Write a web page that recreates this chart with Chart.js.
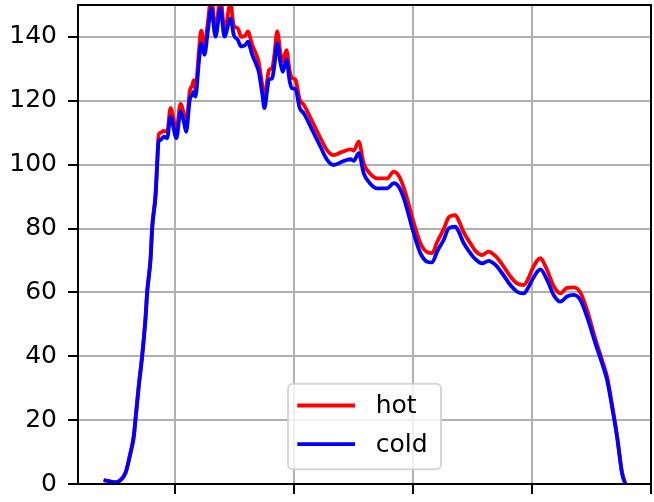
<!DOCTYPE html>
<html>
<head>
<meta charset="utf-8">
<script src="https://cdn.jsdelivr.net/npm/chart.js@4/dist/chart.umd.min.js"></script>
<style>
  html, body { margin: 0; padding: 0; background: #fff; overflow: hidden; }
  #c { display: block; }
</style>
</head>
<body>
<canvas id="c" width="654" height="502"></canvas>
<script>
// ---- data ----
const xValues = [39.5, 43.6, 49.5, 53.7, 57.9, 62.1, 64.9, 66.3, 69.1, 72.0, 74.7, 76.2, 79.0, 80.4, 83.2, 84.6, 85.9, 87.4, 90.2, 93.0, 95.8, 100.8, 104.2, 107.0, 109.0, 112.0, 114.1, 115.4, 116.8, 119.6, 121.6, 124.4, 127.2, 130.1, 133.7, 137.9, 141.2, 146.3, 149.1, 152.4, 155.3, 158.9, 160.9, 164.6, 168.2, 170.1, 173.0, 174.9, 177.2, 178.5, 181.4, 183.3, 185.6, 188.4, 190.3, 193.4, 196.2, 198.2, 201.0, 204.6, 208.0, 215.1, 222.1, 227.7, 233.2, 240.3, 247.3, 250.1, 254.3, 258.5, 263.6, 269.8, 278.2, 283.8, 288.0, 292.2, 296.4, 300.6, 306.2, 311.9, 316.1, 320.3, 325.8, 330.1, 335.7, 338.5, 342.7, 348.3, 352.5, 358.2, 363.7, 369.4, 375.0, 382.0, 387.6, 393.2, 397.4, 400.3, 407.2, 412.9, 418.4, 424.1, 429.7, 435.3, 440.9, 446.5, 453.5, 459.2, 463.4, 467.6, 471.8, 476.0, 478.8];

const coldValues = [1.2, 0.9, 0.5, 1.2, 3.4, 9.6, 14.8, 20.0, 30.5, 40.1, 51.4, 60.0, 70.2, 80.1, 90.0, 100.1, 107.7, 107.7, 108.8, 108.3, 115.0, 108.3, 116.6, 113.5, 110.3, 120.3, 121.8, 122.9, 121.3, 131.8, 138.0, 134.4, 141.7, 149.0, 140.1, 149.0, 140.1, 145.8, 140.6, 139.1, 137.0, 137.5, 138.5, 134.4, 131.2, 129.1, 122.4, 117.7, 123.4, 126.5, 127.1, 131.2, 138.0, 131.8, 129.1, 132.8, 126.0, 123.9, 123.6, 117.7, 116.1, 110.9, 105.6, 101.5, 99.9, 100.9, 101.7, 101.2, 103.6, 97.3, 94.2, 92.6, 92.6, 94.2, 93.1, 89.5, 84.2, 78.5, 72.3, 69.6, 69.4, 72.8, 76.4, 80.1, 80.6, 79.0, 75.4, 72.3, 70.4, 69.1, 69.9, 68.6, 66.0, 62.3, 60.2, 59.7, 61.8, 63.9, 67.2, 63.9, 59.2, 57.1, 58.7, 59.2, 57.6, 52.4, 44.1, 37.8, 32.6, 24.2, 14.8, 3.4, 0.0];

const hotValues = [1.2, 0.9, 0.5, 1.3, 3.6, 10.0, 15.3, 20.6, 31.2, 40.8, 52.2, 60.8, 71.0, 81.0, 91.0, 101.2, 109.5, 110.0, 110.6, 110.3, 117.7, 110.8, 119.0, 116.0, 112.3, 123.0, 124.8, 126.5, 123.5, 135.0, 142.0, 136.8, 144.5, 152.5, 142.0, 152.5, 141.8, 150.5, 143.5, 142.7, 140.0, 140.5, 141.7, 137.5, 134.3, 132.0, 125.0, 120.3, 126.3, 129.5, 130.3, 134.5, 141.7, 135.0, 132.3, 135.9, 129.3, 127.1, 126.6, 120.4, 118.8, 113.6, 108.3, 104.5, 103.0, 104.0, 104.8, 104.4, 107.2, 100.3, 97.3, 95.7, 95.7, 97.8, 96.5, 92.8, 87.5, 81.8, 75.4, 72.6, 72.3, 75.8, 79.8, 83.5, 84.2, 82.5, 78.8, 75.4, 73.0, 71.7, 72.8, 71.4, 68.8, 65.0, 62.8, 62.3, 64.6, 67.2, 70.7, 67.0, 62.0, 59.7, 61.4, 61.6, 60.0, 54.5, 45.5, 38.8, 33.6, 24.8, 15.2, 3.6, 0.0];

const seriesNames = ['hot', 'cold'];
const xTicks = [100, 200, 300, 400, 500];
const yTicks = [0, 20, 40, 60, 80, 100, 120, 140];

// ---- build chart ----
Chart.defaults.font.family = "'DejaVu Sans', sans-serif";
Chart.defaults.color = '#000';

function pts(ys) { return xValues.map((x, i) => ({ x: x, y: ys[i] })); }
function noPad(s) { s.paddingTop = 0; s.paddingBottom = 0; s.paddingLeft = 0; s.paddingRight = 0; }

const frameAndLegend = {
  id: 'frameAndLegend',
  afterDatasetsDraw(chart) {
    const { ctx, chartArea: a } = chart;
    ctx.save();
    ctx.strokeStyle = '#000';
    ctx.lineWidth = 2;
    ctx.strokeRect(Math.round(a.left), Math.round(a.top), Math.round(a.right - a.left), Math.round(a.bottom - a.top));
    ctx.restore();
  },
  afterDraw(chart) {
    const { ctx, chartArea: a } = chart;
    const w = 153, h = 85.5;
    const cx = (a.left + a.right) / 2;
    const left = cx - w / 2, top = a.bottom - 14.7 - h;
    ctx.save();
    ctx.beginPath();
    if (ctx.roundRect) ctx.roundRect(left, top, w, h, 5); else ctx.rect(left, top, w, h);
    ctx.fillStyle = 'rgba(255,255,255,0.8)';
    ctx.fill();
    ctx.strokeStyle = 'rgba(204,204,204,0.8)';
    ctx.lineWidth = 2;
    ctx.stroke();
    const rows = [21.7, 60.3];
    chart.data.datasets.forEach((ds, i) => {
      const y = top + rows[i];
      ctx.beginPath();
      ctx.moveTo(left + 9.3, y);
      ctx.lineTo(left + 67, y);
      ctx.strokeStyle = ds.borderColor;
      ctx.lineWidth = 3.8;
      ctx.stroke();
      ctx.fillStyle = '#000';
      ctx.font = "25px 'DejaVu Sans'";
      ctx.textBaseline = 'middle';
      ctx.textAlign = 'left';
      ctx.fillText(ds.label, left + 87.7, y + 1);
    });
    ctx.restore();
  }
};

new Chart(document.getElementById('c'), {
  type: 'line',
  data: {
    datasets: [
      { label: seriesNames[0], data: pts(hotValues), borderColor: '#ff0000', order: 2 },
      { label: seriesNames[1], data: pts(coldValues), borderColor: '#0000ff', order: 1 }
    ]
  },
  options: {
    responsive: false,
    animation: false,
    devicePixelRatio: 1,
    layout: { autoPadding: false, padding: { top: 5, right: 3, left: 0, bottom: 0 } },
    elements: {
      point: { radius: 0 },
      line: { borderWidth: 3.8, cubicInterpolationMode: 'monotone', borderJoinStyle: 'round', fill: false }
    },
    datasets: { line: { clip: 0 } },
    plugins: { legend: { display: false }, tooltip: { enabled: false } },
    scales: {
      x: {
        type: 'linear',
        min: 17.9,
        max: 500.4,
        afterBuildTicks: s => { s.ticks = xTicks.map(v => ({ value: v })); },
        afterFit: s => { s.height = 18; noPad(s); },
        ticks: { display: false },
        border: { display: false },
        grid: { color: '#b0b0b0', lineWidth: 2, tickColor: '#000', tickWidth: 2, tickLength: 10, drawTicks: true }
      },
      y: {
        type: 'linear',
        min: 0,
        max: 150,
        afterBuildTicks: s => { s.ticks = yTicks.map(v => ({ value: v })); },
        afterFit: s => { s.width = 78; noPad(s); },
        ticks: { font: { size: 25 }, color: '#000', padding: 11 },
        border: { display: false },
        grid: { color: '#b0b0b0', lineWidth: 2, tickColor: '#000', tickWidth: 2, tickLength: 10, drawTicks: true }
      }
    }
  },
  plugins: [frameAndLegend]
});
</script>
</body>
</html>
